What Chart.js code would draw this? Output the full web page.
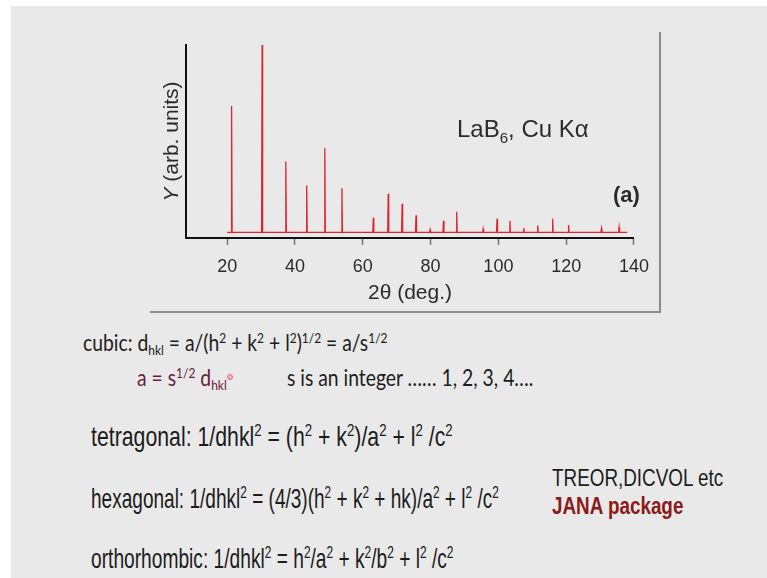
<!DOCTYPE html>
<html>
<head>
<meta charset="utf-8">
<script src="https://cdn.jsdelivr.net/npm/chart.js@4"></script>
<style>
body { margin: 0; width: 767px; height: 578px; background: #fff; position: relative; overflow: hidden; font-family: "Liberation Sans", Arial, sans-serif; color: #1c1c1c; }
#slide { position: absolute; left: 11px; top: 6px; width: 756px; height: 572px; background: #e9e9e9; }
#frame { position: absolute; left: 150px; top: 32px; width: 509px; height: 279px; border-right: 2px solid #8c8c8c; border-bottom: 2px solid #8c8c8c; }
#graph { position: absolute; left: 150px; top: 30px; }
.t { position: absolute; white-space: nowrap; line-height: 1; transform-origin: 0 50%; }
.nar { font-family: "Liberation Sans", Arial, sans-serif; transform: scaleX(0.76); }
.side { font-family: "Liberation Sans", Arial, sans-serif; transform: scaleX(0.82); }
.cal { font-family: Lato, "Open Sans", sans-serif; transform: scaleX(0.84); }
sup, sub { font-size: 0.62em; line-height: 0; position: relative; vertical-align: baseline; }
sup { top: -0.55em; }
sub { top: 0.3em; }
#dot { position: absolute; left: 227px; top: 374px; width: 4px; height: 4px; border: 1px solid #e46a7c; border-radius: 50%; background: #f3b7c0; }
</style>
</head>
<body>
<div id="slide"></div>
<div id="frame"></div>
<canvas id="graph" width="510" height="280"></canvas>

<div class="t cal" style="left:83px; top:331px; font-size:23px;">cubic: d<sub>hkl</sub> = a/(h<sup>2</sup> + k<sup>2</sup> + l<sup>2</sup>)<sup>1/2</sup> = a/s<sup>1/2</sup></div>
<div class="t cal" style="left:137px; top:366px; font-size:23px; color:#6a1b3b;">a = s<sup>1/2</sup> d<sub>hkl</sub></div>
<div id="dot"></div>
<div class="t cal" style="left:287px; top:366px; font-size:23px;">s is an integer …… 1, 2, 3, 4….</div>

<div class="t nar" style="left:91px; top:423px; font-size:28px;">tetragonal: 1/dhkl<sup>2</sup> = (h<sup>2</sup> + k<sup>2</sup>)/a<sup>2</sup> + l<sup>2</sup> /c<sup>2</sup></div>
<div class="t nar" style="left:91px; top:485px; font-size:28px; transform: scaleX(0.68);">hexagonal: 1/dhkl<sup>2</sup> = (4/3)(h<sup>2</sup> + k<sup>2</sup> + hk)/a<sup>2</sup> + l<sup>2</sup> /c<sup>2</sup></div>
<div class="t nar" style="left:91px; top:545px; font-size:28px; transform: scaleX(0.685);">orthorhombic: 1/dhkl<sup>2</sup> = h<sup>2</sup>/a<sup>2</sup> + k<sup>2</sup>/b<sup>2</sup> + l<sup>2</sup> /c<sup>2</sup></div>

<div class="t side" style="left:552px; top:467px; font-size:23px;">TREOR,DICVOL etc</div>
<div class="t side" style="left:552px; top:495px; font-size:23px; font-weight:bold; color:#8b1a1a;">JANA package</div>

<script>
// LaB6 pattern, peaks (heights in % of the 30.4 deg line)
const peakPos = [21.3, 30.3, 37.3, 43.45, 48.8, 53.85, 63.1, 67.5, 71.6, 75.7, 79.85, 83.8, 87.7, 95.5, 99.6, 103.4, 107.5, 111.6, 116.0, 120.7, 130.4, 135.6]
const peakHeight = [67.5, 100, 37.8, 25.0, 44.9, 23.6, 7.8, 20.6, 15.3, 9.1, 1.4, 6.2, 11.0, 1.8, 7.3, 6.2, 2.3, 3.7, 7.3, 3.9, 2.0, 2.7]
const scanRange = [20, 138]
const xTickValues = [20, 40, 60, 80, 100, 120, 140]
const xTitle = '2θ (deg.)'
const yTitle = ['Y', ' (arb. units)']
const sampleLabel = ['LaB', '6', ', Cu Kα']
const panelLabel = '(a)'

let pattern = [{x: scanRange[0], y: 0}]
peakPos.forEach((p, i) => {
    pattern.push({x: p - 0.15, y: 0}, {x: p, y: peakHeight[i]}, {x: p + 0.15, y: 0})
})
pattern.push({x: scanRange[1], y: 0})

const textColor = '#2b2b2b'
const font = '"Liberation Sans", Arial, sans-serif'

// axis title on the left and the two labels inside the plot
const labelPlugin = {
    id: 'labels',
    afterDraw(chart) {
        const c = chart.ctx
        const area = chart.chartArea
        c.save()
        c.fillStyle = textColor
        c.textBaseline = 'middle'
        c.translate(22, (area.top + area.bottom) / 2)
        c.rotate(-Math.PI / 2)
        c.font = 'italic 21px ' + font
        let w1 = c.measureText(yTitle[0]).width
        c.font = '21px ' + font
        let w2 = c.measureText(yTitle[1]).width
        let x0 = -(w1 + w2) / 2
        c.font = 'italic 21px ' + font
        c.fillText(yTitle[0], x0, 0)
        c.font = '21px ' + font
        c.fillText(yTitle[1], x0 + w1, 0)
        c.restore()

        c.save()
        c.fillStyle = textColor
        c.textBaseline = 'alphabetic'
        let x = 307, y = 107
        c.font = '24px ' + font
        c.fillText(sampleLabel[0], x, y)
        x += c.measureText(sampleLabel[0]).width
        c.font = '15px ' + font
        c.fillText(sampleLabel[1], x, y + 6)
        x += c.measureText(sampleLabel[1]).width
        c.font = '24px ' + font
        c.fillText(sampleLabel[2], x, y)

        c.font = 'bold 22px ' + font
        c.textBaseline = 'middle'
        c.fillText(panelLabel, 463, 166)
        c.restore()
    }
}

let ctx = document.getElementById('graph')

let graphData = {
    type: 'line',
    data: {
        datasets: [{
            data: pattern,
            borderColor: 'rgb(226, 35, 45)',
            borderWidth: 1.3,
            pointRadius: 0,
            tension: 0,
            fill: false
        }]
    },
    options: {
        responsive: false,
        animation: false,
        devicePixelRatio: 1,
        layout: { padding: { left: 0, top: 15, right: 25, bottom: 0 } },
        plugins: { legend: { display: false }, tooltip: { enabled: false } },
        scales: {
            x: {
                type: 'linear',
                min: 7.85,
                max: 140,
                afterBuildTicks: s => { s.ticks = xTickValues.map(v => ({value: v})) },
                afterFit: s => { s.height = 72 },
                ticks: { color: textColor, font: { size: 18, family: font }, padding: 11, maxRotation: 0 },
                grid: { drawOnChartArea: false, tickLength: 7, tickColor: '#777', tickWidth: 1.5 },
                border: { color: '#111', width: 2 },
                title: { display: true, text: xTitle, color: textColor, font: { size: 21, family: font }, padding: { top: 0, bottom: 4 } }
            },
            y: {
                min: -3,
                max: 100,
                afterFit: s => { s.width = 36 },
                ticks: { display: false },
                grid: { drawOnChartArea: false, drawTicks: false },
                border: { color: '#111', width: 2 }
            }
        }
    },
    plugins: [labelPlugin]
}

const graph = new Chart(ctx, graphData)
</script>
</body>
</html>
